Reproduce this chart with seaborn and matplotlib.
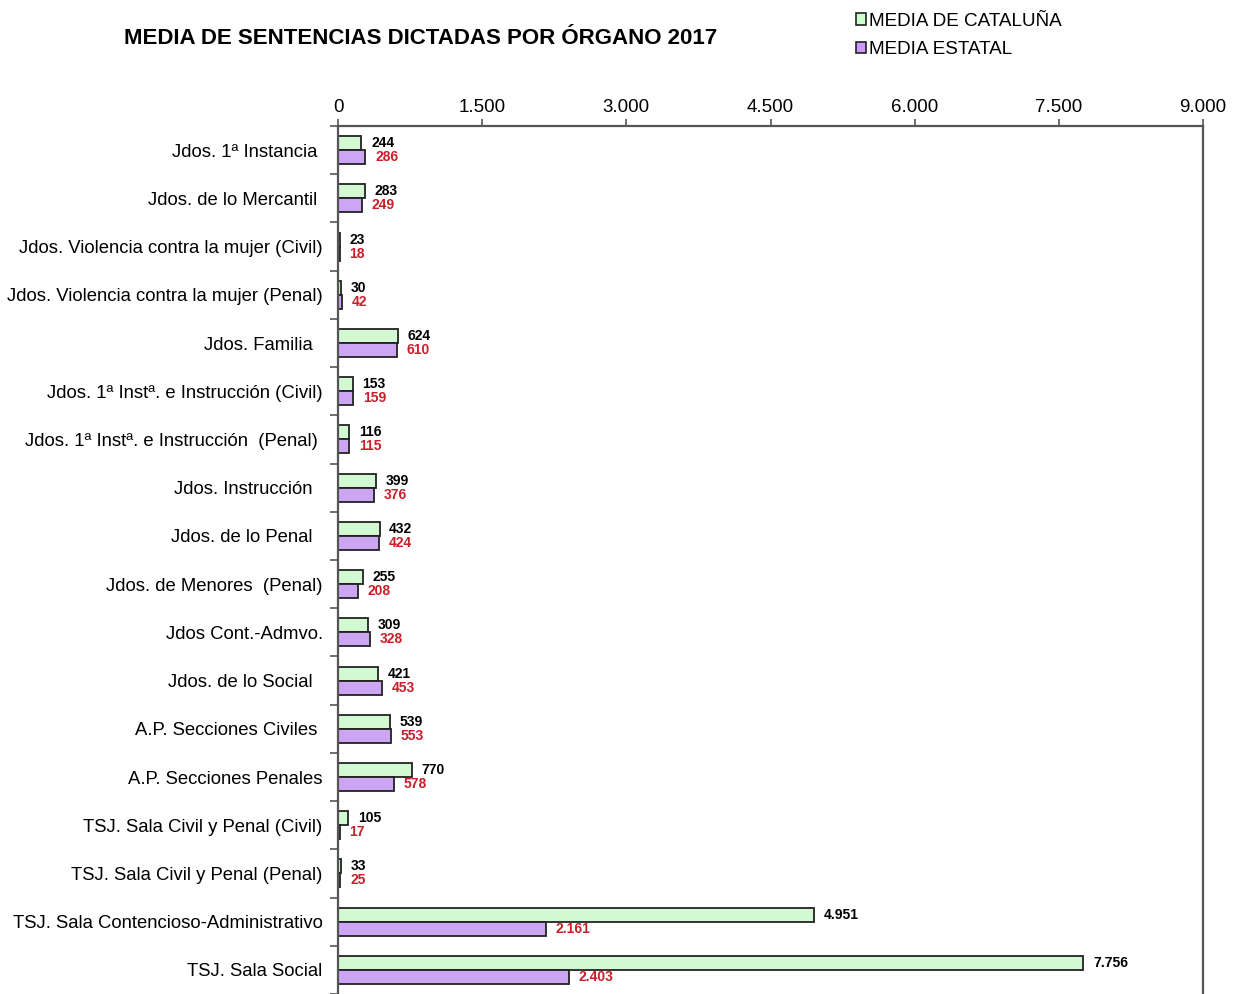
import pandas as pd
import numpy as np
import matplotlib
matplotlib.use('Agg')
import matplotlib.pyplot as plt
from matplotlib.patches import Patch
from matplotlib.ticker import FuncFormatter, FixedLocator
import seaborn as sns

# Data
organos = [
    "Jdos. 1ª Instancia ",
    "Jdos. de lo Mercantil ",
    "Jdos. Violencia contra la mujer (Civil)",
    "Jdos. Violencia contra la mujer (Penal)",
    "Jdos. Familia  ",
    "Jdos. 1ª Instª. e Instrucción (Civil)",
    "Jdos. 1ª Instª. e Instrucción  (Penal) ",
    "Jdos. Instrucción  ",
    "Jdos. de lo Penal  ",
    "Jdos. de Menores  (Penal)",
    "Jdos Cont.-Admvo.",
    "Jdos. de lo Social  ",
    "A.P. Secciones Civiles ",
    "A.P. Secciones Penales",
    "TSJ. Sala Civil y Penal (Civil)",
    "TSJ. Sala Civil y Penal (Penal)",
    "TSJ. Sala Contencioso-Administrativo",
    "TSJ. Sala Social",
]
media_cataluna = [244, 283, 23, 30, 624, 153, 116, 399, 432, 255, 309, 421, 539, 770, 105, 33, 4951, 7756]
media_estatal = [286, 249, 18, 42, 610, 159, 115, 376, 424, 208, 328, 453, 553, 578, 17, 25, 2161, 2403]
series = ["MEDIA DE CATALUÑA", "MEDIA ESTATAL"]
x_ticks = [0, 1500, 3000, 4500, 6000, 7500, 9000]

colors = ["#ccffcc", "#cc99ff"]
label_colors = ["#000000", "#c8202a"]


def fmt_es(v):
    """Spanish thousands separator"""
    return f"{int(v):,}".replace(",", ".")


df = pd.DataFrame({
    "organo": organos * 2,
    "valor": media_cataluna + media_estatal,
    "serie": [series[0]] * len(organos) + [series[1]] * len(organos),
})

sns.set_style('white')
plt.rcParams['font.family'] = ['Liberation Sans', 'DejaVu Sans']
plt.rcParams['text.color'] = 'black'
plt.rcParams['xtick.labelcolor'] = 'black'
plt.rcParams['ytick.labelcolor'] = 'black'

fig = plt.figure(figsize=(12.43, 9.94), dpi=100)
ax = fig.add_axes([338 / 1243, 0.0, 865 / 1243, 1 - 126 / 994])

sns.barplot(data=df, y="organo", x="valor", hue="serie", orient="h",
            palette=colors, width=0.58, edgecolor="#222222", linewidth=1.3,
            legend=False, ax=ax)

# value labels
for cont, vals, c in zip(ax.containers, [media_cataluna, media_estatal], label_colors):
    ax.bar_label(cont, labels=[fmt_es(v) for v in vals], padding=7,
                 color=c, fontsize=10, fontweight='bold')

ax.set_xlim(0, 9000)
ax.set_ylim(len(organos) - 0.5, -0.5)
ax.xaxis.tick_top()
ax.set_xticks(x_ticks)
ax.xaxis.set_major_formatter(FuncFormatter(lambda v, p: fmt_es(v)))
ax.tick_params(axis='x', which='major', top=True, bottom=False, length=5,
               width=1.2, color='#555555', labelsize=13.5, pad=2)

ax.tick_params(axis='y', which='major', left=False, length=0, labelsize=13.3, pad=11)
ax.yaxis.set_minor_locator(FixedLocator(np.arange(-0.5, len(organos), 1.0)))
ax.tick_params(axis='y', which='minor', left=True, length=6, width=1.2,
               color='#555555', direction='out')

ax.set_xlabel("")
ax.set_ylabel("")

for side in ['top', 'left', 'right']:
    ax.spines[side].set_visible(True)
    ax.spines[side].set_color('#555555')
    ax.spines[side].set_linewidth(1.6)
ax.spines['bottom'].set_visible(False)

fig.text(421 / 1243, 1 - 38 / 994, "MEDIA DE SENTENCIAS DICTADAS POR ÓRGANO 2017",
         ha='center', va='center', fontsize=16, fontweight='bold')

handles = [Patch(facecolor=colors[i], edgecolor='#222222', linewidth=1.2, label=series[i])
           for i in range(2)]
fig.legend(handles=handles, loc='upper left', bbox_to_anchor=(848 / 1243, 1 - 5 / 994),
           frameon=False, fontsize=13.6, handlelength=0.55, handleheight=0.55,
           handletextpad=0.15, labelspacing=0.6, borderaxespad=0)

plt.savefig('out.png', dpi=100)
